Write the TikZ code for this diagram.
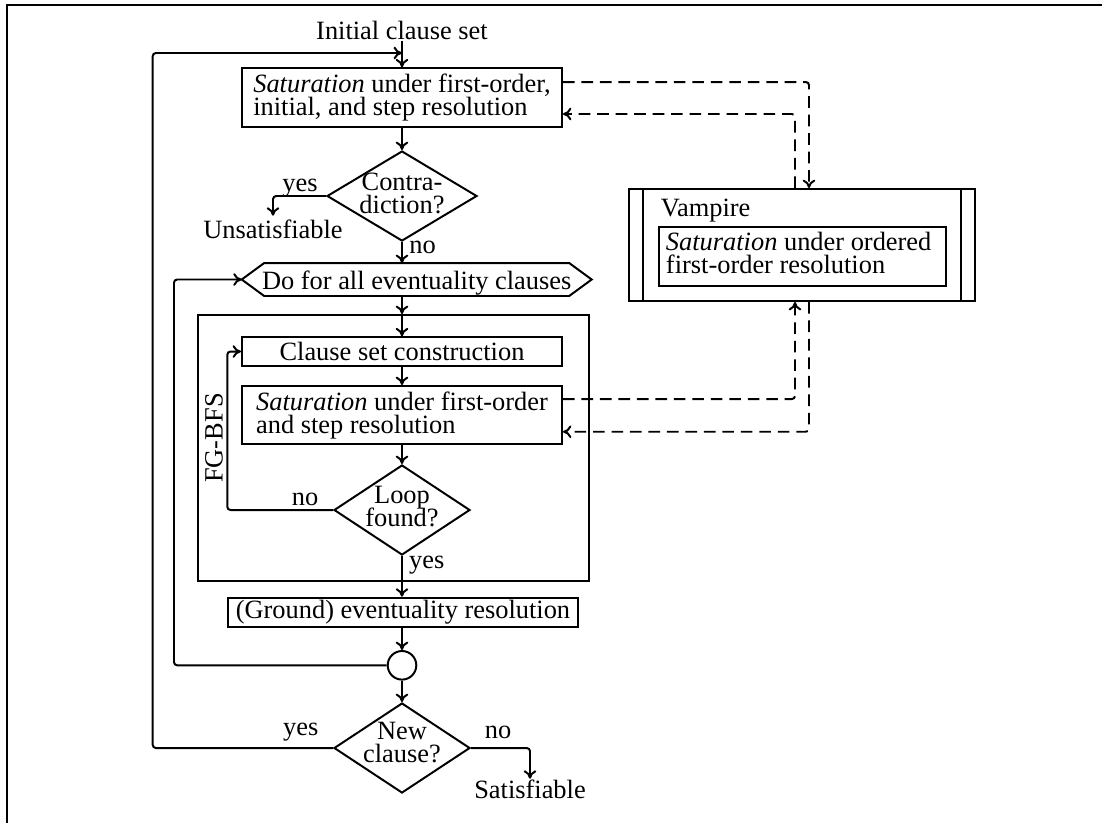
\documentclass[tikz,border=0pt]{standalone}
\usepackage{fontspec}
\setmainfont{Liberation Serif}
\usetikzlibrary{arrows.meta,calc,shapes.geometric}
\def\pxu{0.3788pt}
\begin{document}
\lineskiplimit=-10pt
\begin{tikzpicture}[x=0.3788pt, y=-0.3788pt,
  line width=0.75pt,
  every node/.style={font=\fontsize{10}{8.7}\selectfont},
  arr/.style={-{To[length=3.2pt,width=4.8pt]}},
  dsh/.style={dash pattern=on 4.4pt off 2.6pt},
  rc/.style={rounded corners=1.2pt},
  box/.style={draw, rectangle, inner sep=0pt, minimum width=320*\pxu},
  decision/.style={draw, diamond, inner sep=0pt, minimum width=136*\pxu, minimum height=90*\pxu},
  txt/.style={inner sep=0pt, align=center},
  lbl/.style={inner sep=0pt, anchor=base}]

\useasboundingbox (0,0) rectangle (1102,823);

% frame
\draw (7,823) -- (7,5) -- (1102,5);

% guide columns for the loops and the dashed links
\coordinate (xo) at (152.7,0);
\coordinate (xi) at (174,0);
\coordinate (xl) at (227.3,0);
\coordinate (xvl) at (795,0);
\coordinate (xvr) at (809,0);
\coordinate (topjoin) at (402,53);

% main column
\node[lbl] (init) at (402,39.5) {Initial clause set};
\node[box, minimum height=59*\pxu, align=left] (b1) at (402,97.8)
  {\textit{Saturation} under first-order,\\ initial, and step resolution};

\node[decision, minimum width=150*\pxu] (d1) at (402,196) {};
\node[txt] (d1t) at (402,193) {Contra-\\diction?};
\node[lbl] (yes1) at (300,191.7) {yes};
\node[lbl] (unsat) at (273,238.3) {Unsatisfiable};
\node[lbl] (no1) at (422.5,253.3) {no};

\node[inner sep=0pt, minimum width=348*\pxu, minimum height=31*\pxu, text height=9.4pt, text depth=2.2pt] (hex) at (416.7,279.5) {Do for all eventuality clauses};
\draw (hex.west) -- ($(hex.north west)+(22.5,0)$) -- ($(hex.north east)+(-22.5,0)$) -- (hex.east)
  -- ($(hex.south east)+(-22.5,0)$) -- ($(hex.south west)+(22.5,0)$) -- cycle;

% FG-BFS block
\node[draw, inner sep=0pt, minimum width=391*\pxu, minimum height=266*\pxu] (fg) at (393.8,448) {};
\node[rotate=90, inner sep=0pt] (fgl) at (214,438) {FG-BFS};
\node[box, minimum height=28.4*\pxu] (csc) at (402,351.5) {Clause set construction};
\node[box, minimum height=58.3*\pxu, align=left] (sat2) at (402,415.2)
  {\textit{Saturation} under first-order\\ and step resolution};
\node[decision] (d2) at (402,510) {};
\node[txt] (d2t) at (402,506.3) {Loop\\found?};
\node[lbl] (no2) at (305,505) {no};
\node[lbl] (yes2) at (426.7,568.3) {yes};

\node[draw, inner sep=0pt, minimum width=350.6*\pxu, minimum height=29*\pxu] (gr) at (403,612.2) {(Ground) eventuality resolution};
\node[draw, circle, inner sep=0pt, minimum size=28.6*\pxu] (circ) at (402,665.3) {};
\node[decision] (d3) at (402,748) {};
\node[txt] (d3t) at (402,743) {New\\clause?};
\node[lbl] (yes3) at (300.8,735) {yes};
\node[lbl] (no3) at (498,738.3) {no};
\node[lbl] (sat) at (530,798.3) {Satisfiable};

% Vampire
\node[draw, inner sep=0pt, minimum width=346*\pxu, minimum height=112*\pxu] (vamp) at (802,245) {};
\draw ($(vamp.north west)+(15,0)$) -- ($(vamp.south west)+(15,0)$);
\draw ($(vamp.north east)+(-15,0)$) -- ($(vamp.south east)+(-15,0)$);
\node[lbl, anchor=base west] (vname) at (660,216.7) {Vampire};
\node[draw, inner sep=0pt, minimum width=287*\pxu, minimum height=59*\pxu] (vin) at (802.5,256.6) {};
\node[inner sep=0pt, anchor=west, align=left] (vint) at (665,252.5)
  {\textit{Saturation} under ordered\\ first-order resolution};

% connectors
\draw[arr] (init) -- (b1);
\draw[arr, rc] (d3.west) -- (d3.west -| xo) |- (topjoin);
\draw[arr] (b1) -- (d1);
\draw[arr, rc] (d1.west) -| ($(unsat.north)+(0,-3)$);
\draw[arr] (d1.south) -- (d1.south |- hex.north);
\draw[arr] (d1.south |- hex.south) -- (d1.south |- fg.north);
\draw[arr] (d1.south |- fg.north) -- (csc.north);
\draw[arr] (csc) -- (sat2);
\draw[arr] (sat2) -- (d2);
\draw[arr, rc] (d2.west) -- (d2.west -| xl) |- (csc.west);
\draw[arr] (d2.south) -- (d2.south |- gr.north);
\draw[arr] (gr.south -| circ.north) -- (circ.north);
\draw[arr] (circ) -- (d3);
\draw[arr, rc] (circ.west) -- (circ.west -| xi) |- (hex.west);
\draw[arr, rc] (d3.east) -| (sat.north);

% links to Vampire
\draw[arr, dsh, rc] ($(b1.north east)+(0,14.7)$) -| (vamp.north -| xvr);
\draw[arr, dsh, rc] (vamp.north -| xvl) |- ($(b1.south east)+(0,-14.3)$);
\draw[arr, dsh, rc] ($(sat2.north east)+(0,14)$) -| (vamp.south -| xvl);
\draw[arr, dsh, rc] (vamp.south -| xvr) |- ($(sat2.south east)+(0,-13.6)$);
\end{tikzpicture}
\end{document}
